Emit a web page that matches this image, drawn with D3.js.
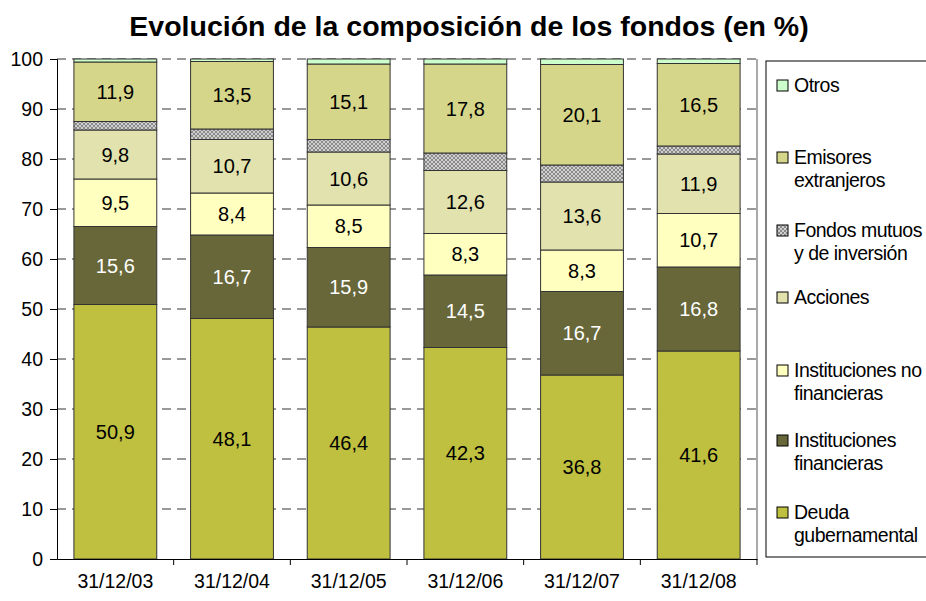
<!DOCTYPE html>
<html>
<head>
<meta charset="utf-8">
<script src="https://cdn.jsdelivr.net/npm/d3@7"></script>
<style>
  body { margin: 0; background: #fff; }
  svg text { font-family: Arial, "Liberation Sans", sans-serif; }
</style>
</head>
<body>
<div id="chart"></div>
<script>
// data
var fechas = ["31/12/03", "31/12/04", "31/12/05", "31/12/06", "31/12/07", "31/12/08"];
var deuda = [50.9, 48.1, 46.4, 42.3, 36.8, 41.6];
var instFin = [15.6, 16.7, 15.9, 14.5, 16.7, 16.8];
var instNoFin = [9.5, 8.4, 8.5, 8.3, 8.3, 10.7];
var acciones = [9.8, 10.7, 10.6, 12.6, 13.6, 11.9];
var fondos = [1.7, 2.1, 2.5, 3.5, 3.4, 1.6];
var emisores = [11.9, 13.5, 15.1, 17.8, 20.1, 16.5];
var otros = [0.6, 0.5, 1.0, 1.0, 1.1, 0.9];
var yTicks = [0, 10, 20, 30, 40, 50, 60, 70, 80, 90, 100];

var series = [
  {name: "Deuda gubernamental", lines: ["Deuda", "gubernamental"], values: deuda, fill: "#BFBF40", label: true, txt: "#000"},
  {name: "Instituciones financieras", lines: ["Instituciones", "financieras"], values: instFin, fill: "#67673A", label: true, txt: "#fff"},
  {name: "Instituciones no financieras", lines: ["Instituciones no", "financieras"], values: instNoFin, fill: "#FFFFC0", label: true, txt: "#000"},
  {name: "Acciones", lines: ["Acciones"], values: acciones, fill: "#E2E2AE", label: true, txt: "#000"},
  {name: "Fondos mutuos y de inversión", lines: ["Fondos mutuos", "y de inversión"], values: fondos, fill: "url(#hatch)", label: false},
  {name: "Emisores extranjeros", lines: ["Emisores", "extranjeros"], values: emisores, fill: "#D6D68A", label: true, txt: "#000"},
  {name: "Otros", lines: ["Otros"], values: otros, fill: "#CCFFCC", label: false}
];

var width = 926, height = 601;
var margin = {top: 59, right: 169, bottom: 42, left: 57};
var w = width - margin.left - margin.right,
    h = height - margin.top - margin.bottom;

var svg = d3.select("#chart").append("svg")
  .attr("width", width)
  .attr("height", height);

// crosshatch pattern for fondos mutuos
var pat = svg.append("defs").append("pattern")
  .attr("id", "hatch")
  .attr("patternUnits", "userSpaceOnUse")
  .attr("width", 4).attr("height", 4);
pat.append("rect").attr("width", 4).attr("height", 4).attr("fill", "#8a8a8a");
pat.append("rect").attr("x", 0).attr("y", 0).attr("width", 2).attr("height", 2).attr("fill", "#d0d0d0");
pat.append("rect").attr("x", 2).attr("y", 2).attr("width", 2).attr("height", 2).attr("fill", "#d0d0d0");

svg.append("text")
  .attr("x", 469).attr("y", 36)
  .attr("text-anchor", "middle")
  .style("font-size", "28.5px")
  .style("font-weight", "bold")
  .text("Evolución de la composición de los fondos (en %)");

var g = svg.append("g").attr("transform", `translate(${margin.left}, ${margin.top})`);

var x = d3.scaleBand().domain(fechas).range([0, w]).paddingInner(0.29).paddingOuter(0.145);
var y = d3.scaleLinear().domain([0, 100]).range([h, 0]);

// dashed grid
g.selectAll("line.grid")
  .data(yTicks.filter(d => d > 0))
  .enter().append("line")
  .attr("x1", 0).attr("x2", w)
  .attr("y1", d => y(d)).attr("y2", d => y(d))
  .attr("stroke", "#333")
  .attr("stroke-dasharray", "9,6");

// stack
var rows = fechas.map(function(f, i) {
  var r = {fecha: f};
  series.forEach(s => r[s.name] = s.values[i]);
  return r;
});
var stacked = d3.stack().keys(series.map(s => s.name))(rows);

stacked.forEach(function(layer, k) {
  var s = series[k];
  var lg = g.append("g");
  lg.selectAll("rect")
    .data(layer)
    .enter().append("rect")
    .attr("x", d => x(d.data.fecha))
    .attr("width", x.bandwidth())
    .attr("y", d => y(d[1]))
    .attr("height", d => y(d[0]) - y(d[1]))
    .attr("fill", s.fill)
    .attr("stroke", "#333")
    .attr("stroke-width", 1);
  if (s.label) {
    lg.selectAll("text")
      .data(layer)
      .enter().append("text")
      .attr("x", d => x(d.data.fecha) + x.bandwidth() / 2)
      .attr("y", d => y((d[0] + d[1]) / 2) + 7)
      .attr("text-anchor", "middle")
      .attr("fill", s.txt)
      .style("font-size", "20px")
      .text((d, i) => String(s.values[i]).replace(".", ","));
  }
});

// axes
var yAxis = g.append("g")
  .call(d3.axisLeft(y).tickValues(yTicks).tickSize(7).tickPadding(7));
yAxis.select(".domain").attr("stroke", "#000");
yAxis.selectAll("text").style("font-size", "19.5px").attr("fill", "#000");

var xAxis = g.append("g")
  .attr("transform", `translate(0, ${h})`)
  .call(d3.axisBottom(x).tickSize(0).tickPadding(15));
xAxis.select(".domain").attr("stroke", "#000");
xAxis.selectAll("text").style("font-size", "19.5px").attr("fill", "#000");

// ticks between categories
var step = x.step();
g.selectAll("line.xt")
  .data(d3.range(1, fechas.length + 1))
  .enter().append("line")
  .attr("x1", d => d * step).attr("x2", d => d * step)
  .attr("y1", h).attr("y2", h + 6)
  .attr("stroke", "#000");

// right border of plot area
g.append("line")
  .attr("x1", w).attr("x2", w)
  .attr("y1", 0).attr("y2", h)
  .attr("stroke", "#555");

// legend
var legend = svg.append("g");
legend.append("rect")
  .attr("x", 766).attr("y", 61)
  .attr("width", 170).attr("height", 496)
  .attr("fill", "#fff")
  .attr("stroke", "#000");

var legendY = [85, 157, 230, 297, 370, 440, 512];
var order = series.slice().reverse();
order.forEach(function(s, i) {
  var yy = legendY[i];
  legend.append("rect")
    .attr("x", 777).attr("y", yy - 5)
    .attr("width", 11).attr("height", 11)
    .attr("fill", s.fill)
    .attr("stroke", "#000");
  s.lines.forEach(function(t, j) {
    legend.append("text")
      .attr("x", 794).attr("y", yy + 7 + j * 23)
      .style("font-size", "19.5px")
      .style("letter-spacing", "-0.5px")
      .text(t);
  });
});
</script>
</body>
</html>
